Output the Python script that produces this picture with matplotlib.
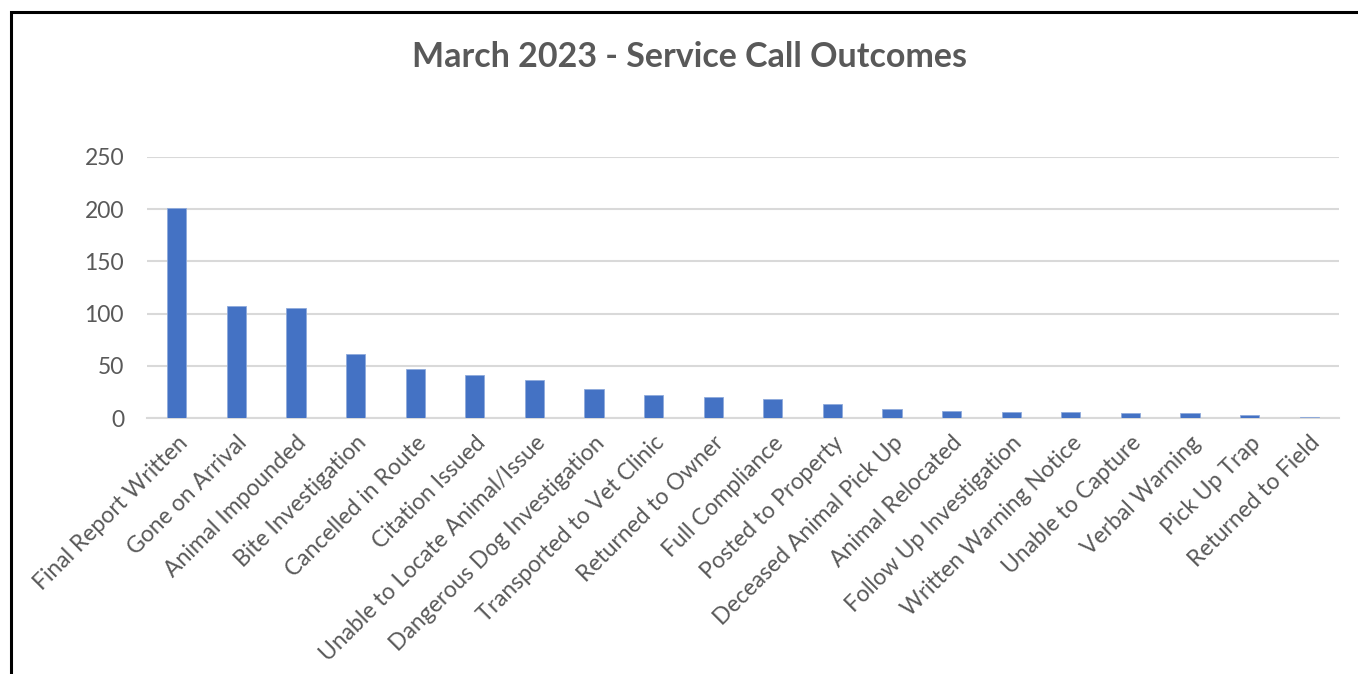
import matplotlib
matplotlib.use("Agg")
import matplotlib.pyplot as plt
from matplotlib.patches import Rectangle

categories = ["Final Report Written", "Gone on Arrival", "Animal Impounded", "Bite Investigation",
              "Cancelled in Route", "Citation Issued", "Unable to Locate Animal/Issue",
              "Dangerous Dog Investigation", "Transported to Vet Clinic", "Returned to Owner",
              "Full Compliance", "Posted to Property", "Deceased Animal Pick Up", "Animal Relocated",
              "Follow Up Investigation", "Written Warning Notice", "Unable to Capture",
              "Verbal Warning", "Pick Up Trap", "Returned to Field"]
values = [201, 107, 105, 61, 47, 41, 37, 28, 22, 20, 18, 14, 9, 7, 6, 6, 5, 5, 3, 1]
yticks = [0, 50, 100, 150, 200, 250]
title = "March 2023 - Service Call Outcomes"

plt.rcParams['font.family'] = ['Lato', 'DejaVu Sans']
W, H = 1358, 674
fig = plt.figure(figsize=(W/100, H/100), dpi=100)
fig.patch.set_facecolor('white')

# outer border (clipped at right and bottom)
fig.patches.append(Rectangle((11/W, -0.1), 1.2, 1 - 12/H + 0.1, transform=fig.transFigure,
                             fill=False, edgecolor='black', linewidth=2.2))

left, right = 147/W, 1339/W
bottom, top = 1 - 418.3/H, 1 - 156.7/H
ax = fig.add_axes([left, bottom, right - left, top - bottom])
x = list(range(len(categories)))
ax.bar(x, values, width=0.32, color='#4472C4', edgecolor='#8FAADC', linewidth=0.6, zorder=3)
ax.set_xlim(-0.5, len(categories) - 0.5)
ax.set_ylim(0, 250)
ax.set_yticks(yticks)
ax.set_yticklabels([str(v) for v in yticks])
ax.yaxis.grid(True, color='#d9d9d9', linewidth=1.5, zorder=0)
ax.set_axisbelow(True)
for s in ['top', 'right', 'left']:
    ax.spines[s].set_visible(False)
ax.spines['bottom'].set_color('#d9d9d9')
ax.spines['bottom'].set_linewidth(1.5)
ax.tick_params(axis='both', length=0, colors='#595959', labelsize=16.5)
ax.tick_params(axis='y', pad=16.5)
ax.set_xticks(x)
ax.set_xticklabels(categories, rotation=45, ha='right', rotation_mode='anchor')
ax.tick_params(axis='x', pad=10)

fig.text((413 + 965) / 2 / W, 1 - 57/H, title, ha='center', va='center',
         fontsize=24.5, fontweight='bold', color='#595959')

fig.savefig('out.png', dpi=100, facecolor='white')
